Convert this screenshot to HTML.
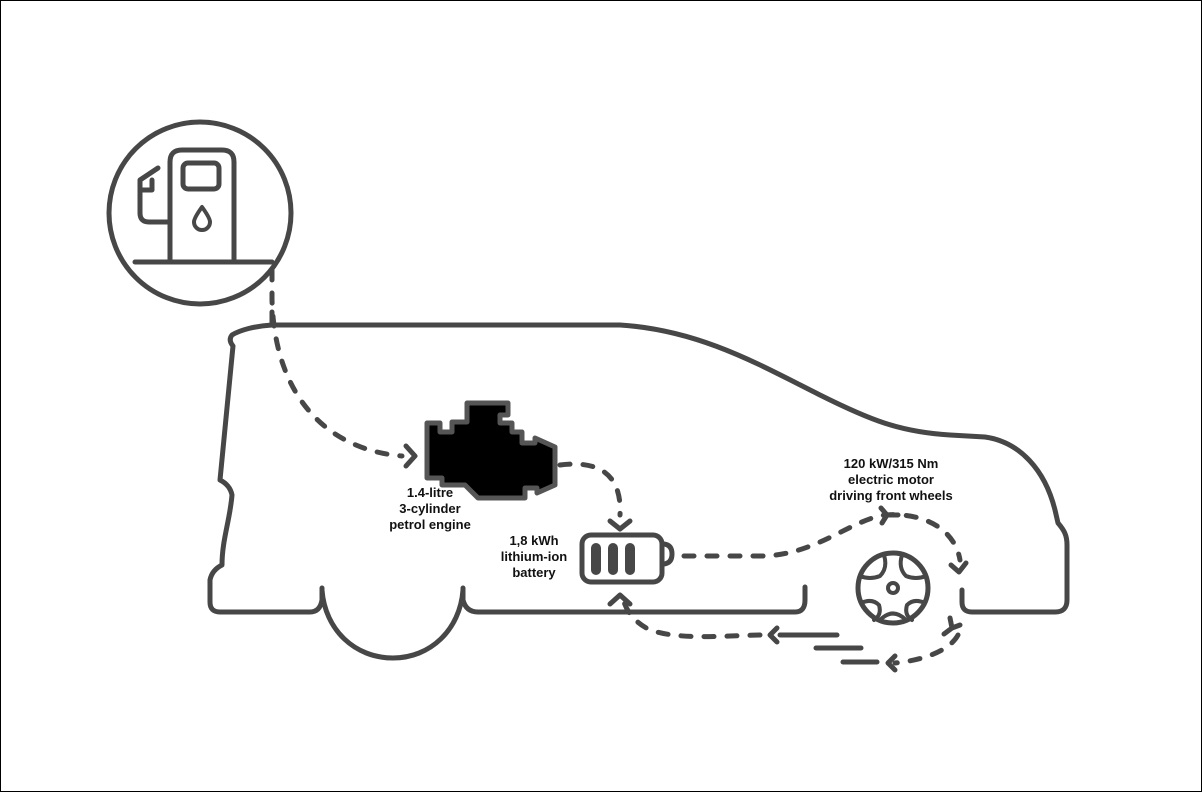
<!DOCTYPE html>
<html><head><style>
html,body{margin:0;padding:0;background:#fff}
svg{display:block}
text{font-family:"Liberation Sans",Arial,sans-serif;font-weight:bold;font-size:13px;fill:#111;text-anchor:middle}
</style></head><body>
<svg width="1202" height="792" viewBox="0 0 1202 792">
<rect x="0.5" y="0.5" width="1201" height="791" fill="#fff" stroke="#000"/>
<g fill="none" stroke="#474747" stroke-width="5" stroke-linecap="round" stroke-linejoin="round">
<!-- fuel circle -->
<circle cx="200" cy="213" r="91"/>
<line x1="135" y1="262" x2="272" y2="262"/>
<path d="M170,262 V162 Q170,150 182,150 H222 Q234,150 234,162 V262"/>
<rect x="183" y="163" width="36" height="26" rx="5"/>
<path d="M202,207 Q194,218 194,222 A8,8 0 0 0 210,222 Q210,218 202,207Z" stroke-width="4"/>
<path d="M170,222 H149 Q140,222 140,213 V180 L158,168"/>
<path d="M140,190 H152 V180"/>
<!-- car body -->
<path d="M272,312 V323 M272,325 H620 C700,330 760,365 820,395 C870,420 900,432 950,435 L985,437 C1020,442 1045,470 1055,510 L1058,523 C1064,530 1067,535 1067,545 V600 Q1067,612 1055,612 H972 Q962,612 962,602 V590"/>
<path d="M272,325 C255,326 240,330 232,335 Q228,340 233,346 L220,480 Q230,485 232,495 C230,520 222,540 222,565 Q212,570 210,580 V602 Q210,612 220,612 H310 Q320,612 322,600 V588"/>
<path d="M322,590 C325,630 355,658 393,658 C430,658 460,630 463,590"/>
<path d="M463,588 V600 Q466,612 478,612 H795 Q805,612 805,600 V587"/>
<!-- wheel -->
<circle cx="893" cy="588" r="35"/>
<circle cx="893" cy="588" r="5" stroke-width="4"/>
<g stroke-width="4">
<path d="M884,555 Q888,568 880,576 Q870,580 860,576"/>
<path d="M902,555 Q898,568 906,576 Q916,580 926,576"/>
<path d="M861,603 Q872,598 879,605 Q882,615 874,620"/>
<path d="M925,603 Q914,598 907,605 Q904,615 912,620"/>
<path d="M880,620 Q893,607 906,620"/>
</g>
<!-- battery -->
<rect x="582" y="535" width="80" height="47" rx="9"/>
<path d="M664,544 Q672,545 672,554 Q672,563 664,564"/>
<g stroke-width="10" stroke-linecap="round"><line x1="596" y1="548" x2="596" y2="570"/><line x1="613" y1="548" x2="613" y2="570"/><line x1="630" y1="548" x2="630" y2="570"/></g>
<!-- dashed flows -->
<g stroke-dasharray="10 13">
<path d="M272,270 V300 C275,400 330,450 402,456"/>
<path d="M560,465 C600,460 622,475 620,515"/>
<path d="M684,556 H760 C815,556 850,520 885,515 C925,512 955,530 960,560"/>
<path d="M958,635 C950,650 925,660 895,663"/>
<path d="M760,635 C720,636 680,640 650,630 Q630,620 624,602"/>
</g>
<!-- arrowheads -->
<path d="M406,446 L415,456 L406,466"/>
<path d="M610,521 L620,529 L630,521"/>
<path d="M610,604 L620,595 L630,604"/>
<path d="M881,508 L887,515 L882,523 M887,515 L898,515"/>
<path d="M951,565 L959,572 L966,563"/>
<path d="M950,618 L952,628 L944,634 M952,628 L960,625"/>
<path d="M895,656 L888,663 L895,670"/>
<path d="M777,628 L770,635 L777,642"/>
<line x1="780" y1="635" x2="837" y2="635"/>
<line x1="816" y1="648" x2="861" y2="648"/>
<line x1="843" y1="662" x2="877" y2="662"/>
</g>
<!-- engine -->
<path d="M467,403 H508 V415 H500 V423 H512 V432 H522 V443 H535 V438 L555,447 V485 L537,493 V488 H525 V498 H478 L465,485 H442 V478 H427 V423 H440 V432 H452 V422 H467 Z" fill="#000" stroke="#555" stroke-width="5" stroke-linejoin="round"/>
<!-- labels -->
<text x="430" y="497">1.4-litre</text>
<text x="430" y="513">3-cylinder</text>
<text x="430" y="529">petrol engine</text>
<text x="534" y="545">1,8 kWh</text>
<text x="534" y="561">lithium-ion</text>
<text x="534" y="577">battery</text>
<text x="891" y="468">120 kW/315 Nm</text>
<text x="891" y="484">electric motor</text>
<text x="891" y="500">driving front wheels</text>
</svg>
</body></html>
